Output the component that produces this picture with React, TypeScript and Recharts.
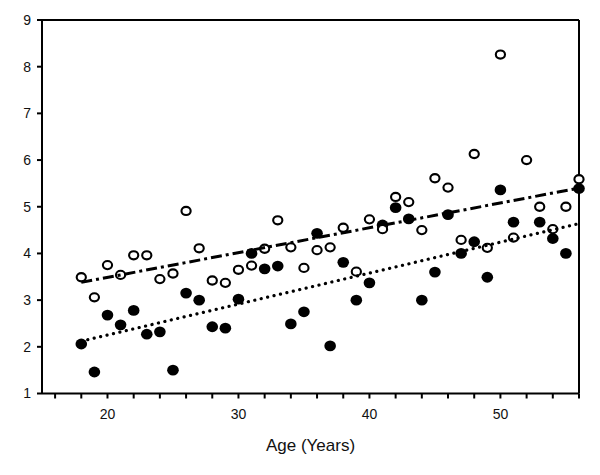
import React from "react";
import {
  ScatterChart,
  Scatter,
  XAxis,
  YAxis,
  ReferenceLine,
} from "recharts";

// ages, one reading per year
const openAges = [
  18, 19, 20, 21, 22, 23, 24, 25, 26, 27, 28, 29, 30, 31, 32, 33, 34, 35, 36, 37,
  38, 39, 40, 41, 42, 43, 44, 45, 46, 47, 48, 49, 50, 51, 52, 53, 54, 55, 56,
];
const openValues = [
  3.49, 3.06, 3.75, 3.54, 3.96, 3.96, 3.45, 3.57, 4.91, 4.11, 3.42, 3.37, 3.65,
  3.74, 4.1, 4.71, 4.13, 3.69, 4.07, 4.13, 4.55, 3.61, 4.73, 4.52, 5.21, 5.1, 4.5,
  5.61, 5.41, 4.29, 6.13, 4.12, 8.26, 4.34, 6.0, 5.0, 4.52, 5.0, 5.59,
];

const filledAges = [
  18, 19, 20, 21, 22, 23, 24, 25, 26, 27, 28, 29, 30, 31, 32, 33, 34, 35, 36, 37,
  38, 39, 40, 41, 42, 43, 44, 45, 46, 47, 48, 49, 50, 51, 53, 54, 55, 56,
];
const filledValues = [
  2.06, 1.46, 2.68, 2.47, 2.78, 2.27, 2.32, 1.5, 3.15, 3.0, 2.43, 2.4, 3.02, 4.0,
  3.67, 3.73, 2.49, 2.75, 4.43, 2.02, 3.81, 3.0, 3.37, 4.61, 4.98, 4.74, 3.0, 3.6,
  4.83, 4.0, 4.25, 3.49, 5.36, 4.67, 4.67, 4.32, 4.0, 5.39,
];

// fitted lines, read at both ends
const trendAges = [18, 56];
const openTrend = [3.38, 5.4];
const filledTrend = [2.12, 4.64];

const xTicks = [16, 18, 20, 22, 24, 26, 28, 30, 32, 34, 36, 38, 40, 42, 44, 46, 48, 50, 52, 54, 56];
const yTicks = [1, 2, 3, 4, 5, 6, 7, 8, 9];

const toPoints = (xs: number[], ys: number[]) => xs.map((x, i) => ({ x, y: ys[i] }));

const openData = toPoints(openAges, openValues);
const filledData = toPoints(filledAges, filledValues);
const openLine = toPoints(trendAges, openTrend);
const filledLine = toPoints(trendAges, filledTrend);

const font = "'Liberation Sans', Arial, sans-serif";

const OpenDot = (props: any) => (
  <ellipse cx={props.cx} cy={props.cy} rx={4.6} ry={4.1} fill="#fff" stroke="#000" strokeWidth={2.1} />
);
const FilledDot = (props: any) => (
  <ellipse cx={props.cx} cy={props.cy} rx={5.8} ry={5.4} fill="#000" />
);
const NoDot = () => <g />;

export default function App() {
  return (
    <ScatterChart
      width={592}
      height={467}
      margin={{ top: 12, right: 21, bottom: 21.5, left: 0 }}
      style={{ fontFamily: font }}
    >
      <XAxis
        type="number"
        dataKey="x"
        domain={[15, 56]}
        ticks={xTicks}
        tickFormatter={(v: number) => (v % 10 === 0 ? String(v) : "")}
        height={60}
        tickSize={5}
        tickMargin={11}
        axisLine={{ stroke: "#000", strokeWidth: 2 }}
        tickLine={{ stroke: "#000", strokeWidth: 2 }}
        tick={{ fill: "#111", fontSize: 14 }}
        label={{ value: "Age (Years)", position: "insideBottom", offset: 3, fill: "#111", fontSize: 17 }}
      />
      <YAxis
        type="number"
        dataKey="y"
        domain={[1, 9]}
        ticks={yTicks}
        width={34}
        tickSize={5}
        tickMargin={6}
        axisLine={{ stroke: "#000", strokeWidth: 2 }}
        tickLine={{ stroke: "#000", strokeWidth: 2 }}
        tick={{ fill: "#111", fontSize: 14 }}
      />
      <ReferenceLine y={9} stroke="#000" strokeWidth={2} />
      <ReferenceLine x={56} stroke="#000" strokeWidth={2} />
      <Scatter data={filledData} shape={FilledDot} isAnimationActive={false} />
      <Scatter data={openData} shape={OpenDot} isAnimationActive={false} />
      <Scatter
        data={filledLine}
        shape={NoDot}
        line={{ stroke: "#000", strokeWidth: 3.2, strokeDasharray: "0.1 6.5", strokeLinecap: "round" }}
        isAnimationActive={false}
      />
      <Scatter
        data={openLine}
        shape={NoDot}
        line={{ stroke: "#000", strokeWidth: 3, strokeDasharray: "11 4 3 4" }}
        isAnimationActive={false}
      />
    </ScatterChart>
  );
}
